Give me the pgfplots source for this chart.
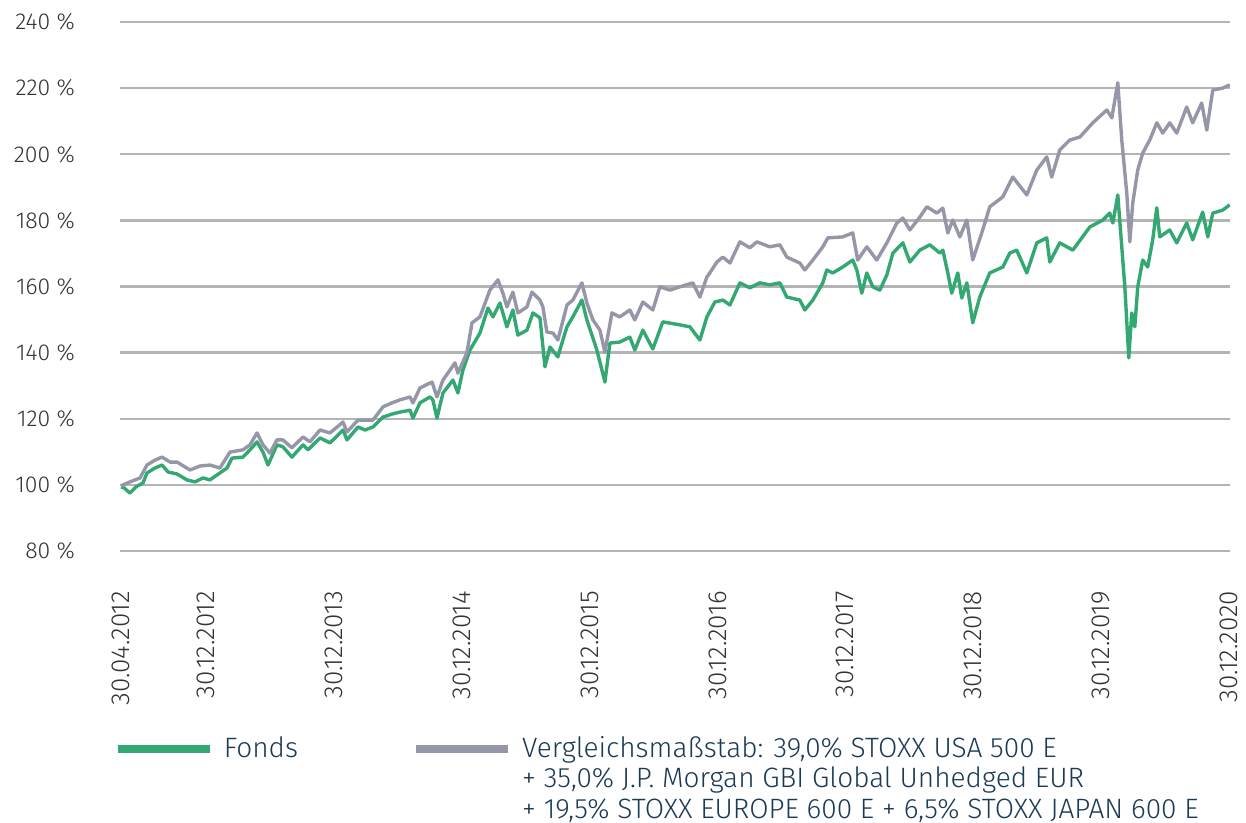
\documentclass[border=0pt]{standalone}
\usepackage{pgfplots}
\pgfplotsset{compat=1.18}
\usepackage{fontspec}
\setmainfont{Fira Sans}[UprightFont={* Light}]
\definecolor{fondsgreen}{RGB}{52,168,114}
\definecolor{benchgray}{RGB}{149,151,168}
\definecolor{gridgray}{RGB}{180,180,180}
\definecolor{ticktext}{RGB}{51,51,51}
\definecolor{legtext}{RGB}{27,58,87}
\begin{document}
\begin{tikzpicture}
\useasboundingbox (-60pt,-136pt) rectangle (563pt,275.5pt);
\begin{axis}[
  at={(0,0)}, anchor=south west,
  scale only axis, width=555pt, height=264.5pt,
  xmin=2012.325, xmax=2021.01,
  ymin=80, ymax=240,
  ytick={80,100,...,240},
  yticklabel={\pgfmathprintnumber{\tick}~\%},
  xtick={2012.333,2013,2014,2015,2016,2017,2018,2019,2020,2021},
  xticklabels={30.04.2012,30.12.2012,30.12.2013,30.12.2014,30.12.2015,30.12.2016,30.12.2017,30.12.2018,30.12.2019,30.12.2020},
  /pgf/number format/assume math mode=true,
  /pgf/number format/1000 sep={},
  axis line style={draw=none},
  major tick style={draw=none},
  ymajorgrids,
  grid style={gridgray, line width=1.2pt},
  yticklabel style={font=\fontsize{11.5}{13}\selectfont, text=ticktext, xshift=-19pt},
  xticklabel style={font=\fontsize{13}{15}\selectfont, text=ticktext, rotate=90, anchor=east},
  xticklabel shift=16.5pt,
  legend columns=2,
  legend style={at={(rel axis cs:-0.0117,-0.334)}, anchor=north west, draw=none, fill=none,
    font=\fontsize{14}{15.2}\selectfont, text=legtext,
    /tikz/every odd column/.append style={column sep=3pt},
    /tikz/every even column/.append style={column sep=8pt}},
  legend image code/.code={\draw[line width=4.2pt, yshift=-0.5pt] (0pt,0pt) -- (46pt,0pt);},
]
\addplot[fondsgreen, line width=1.7pt, line join=round] table {
x y
2012.333 99.4
2012.357 99.1
2012.403 97.5
2012.450 99.4
2012.505 100.6
2012.536 103.6
2012.599 105.1
2012.654 106.0
2012.701 103.9
2012.771 103.3
2012.849 101.5
2012.912 100.9
2012.974 102.1
2013.029 101.5
2013.084 103.0
2013.162 105.1
2013.201 108.1
2013.287 108.4
2013.342 110.6
2013.397 113.0
2013.444 109.9
2013.483 106.0
2013.553 112.1
2013.600 111.5
2013.670 108.4
2013.757 112.1
2013.796 110.6
2013.890 114.2
2013.968 112.7
2014.070 116.6
2014.101 113.6
2014.187 117.5
2014.242 116.6
2014.304 117.5
2014.383 120.5
2014.453 121.4
2014.515 122.0
2014.594 122.6
2014.617 120.2
2014.672 124.8
2014.750 126.6
2014.773 125.7
2014.805 120.2
2014.852 127.8
2014.930 131.7
2014.969 127.8
2015.008 134.7
2015.063 140.8
2015.141 145.9
2015.204 153.5
2015.243 150.8
2015.298 155.0
2015.352 147.8
2015.399 152.9
2015.438 145.3
2015.509 146.8
2015.556 152.0
2015.611 150.5
2015.650 135.7
2015.689 141.7
2015.751 138.7
2015.790 143.8
2015.822 147.8
2015.868 150.8
2015.939 155.9
2015.978 149.9
2016.056 140.8
2016.119 131.1
2016.158 142.9
2016.236 143.2
2016.314 144.7
2016.353 140.8
2016.416 146.8
2016.494 141.1
2016.572 149.3
2016.705 148.4
2016.784 147.8
2016.862 143.8
2016.917 150.8
2016.979 155.3
2017.042 155.9
2017.097 154.4
2017.175 161.1
2017.253 159.6
2017.331 161.1
2017.409 160.5
2017.488 161.1
2017.542 156.8
2017.644 155.9
2017.683 152.9
2017.746 155.9
2017.824 161.1
2017.855 165.0
2017.902 164.1
2017.980 165.9
2018.058 168.0
2018.090 165.0
2018.129 158.0
2018.168 164.1
2018.215 159.9
2018.270 158.9
2018.325 163.5
2018.372 170.1
2018.450 173.2
2018.505 167.4
2018.583 171.0
2018.661 172.6
2018.740 170.1
2018.763 171.0
2018.802 164.1
2018.833 158.0
2018.880 164.1
2018.911 156.5
2018.951 161.1
2018.997 149.0
2019.052 156.8
2019.130 164.1
2019.232 165.9
2019.287 170.1
2019.341 171.0
2019.420 164.1
2019.498 173.2
2019.576 174.7
2019.600 167.4
2019.678 173.2
2019.780 171.0
2019.913 178.0
2020.015 180.1
2020.069 182.2
2020.093 179.2
2020.132 187.7
2020.163 172.0
2020.187 159.9
2020.218 138.4
2020.241 152.0
2020.265 147.8
2020.288 159.9
2020.327 168.0
2020.366 165.9
2020.405 174.1
2020.437 183.8
2020.460 175.0
2020.538 177.1
2020.593 173.2
2020.671 179.2
2020.718 174.1
2020.796 182.5
2020.836 175.0
2020.875 182.2
2020.953 183.1
2021.008 184.7
};
\addlegendentry{\makebox[84pt][l]{Fonds}}
\addplot[benchgray, line width=1.7pt, line join=round] table {
x y
2012.333 99.7
2012.403 100.9
2012.482 102.1
2012.536 106.0
2012.599 107.5
2012.654 108.4
2012.716 106.9
2012.771 106.9
2012.873 104.5
2012.951 105.7
2013.029 106.0
2013.107 105.1
2013.185 109.9
2013.287 110.6
2013.342 112.1
2013.397 115.7
2013.444 112.1
2013.498 109.6
2013.553 113.6
2013.600 113.6
2013.670 111.2
2013.757 114.5
2013.811 113.0
2013.890 116.6
2013.968 115.7
2014.070 119.0
2014.101 116.0
2014.187 119.6
2014.304 119.6
2014.383 123.6
2014.453 124.8
2014.515 125.7
2014.594 126.6
2014.617 124.8
2014.672 129.3
2014.766 131.1
2014.805 126.6
2014.852 131.7
2014.946 136.9
2014.969 133.8
2015.039 139.9
2015.079 149.0
2015.141 150.8
2015.219 158.9
2015.282 162.0
2015.321 158.0
2015.352 153.8
2015.399 158.3
2015.438 152.0
2015.509 153.8
2015.548 158.3
2015.611 155.9
2015.634 153.8
2015.665 146.2
2015.713 145.9
2015.751 143.8
2015.822 154.4
2015.868 155.9
2015.939 161.1
2015.978 155.0
2016.025 149.9
2016.080 146.8
2016.119 140.2
2016.174 152.0
2016.236 150.8
2016.314 152.9
2016.353 149.9
2016.416 155.3
2016.494 152.9
2016.549 159.9
2016.627 158.9
2016.705 159.9
2016.807 161.1
2016.862 156.8
2016.917 162.9
2016.940 164.1
2016.995 167.4
2017.042 168.9
2017.097 167.1
2017.175 173.5
2017.253 171.7
2017.308 173.5
2017.409 172.0
2017.488 172.6
2017.542 168.9
2017.644 167.1
2017.683 165.0
2017.746 168.0
2017.824 172.0
2017.863 174.7
2017.980 175.0
2018.058 176.2
2018.097 168.0
2018.168 172.0
2018.246 168.0
2018.325 173.2
2018.403 179.2
2018.450 180.7
2018.505 177.1
2018.583 181.0
2018.638 184.1
2018.716 182.2
2018.763 183.7
2018.802 176.2
2018.841 180.1
2018.896 175.0
2018.951 180.1
2018.997 168.0
2019.075 177.1
2019.130 184.1
2019.232 187.1
2019.310 193.1
2019.420 187.7
2019.498 195.2
2019.576 199.2
2019.615 193.1
2019.678 201.3
2019.756 204.3
2019.835 205.2
2019.936 209.5
2020.046 213.4
2020.085 211.0
2020.132 221.6
2020.163 204.3
2020.202 188.3
2020.226 173.5
2020.249 185.3
2020.288 195.2
2020.327 200.4
2020.382 204.3
2020.437 209.5
2020.484 206.4
2020.538 209.5
2020.593 206.4
2020.671 214.3
2020.718 209.5
2020.788 215.5
2020.828 207.3
2020.875 219.4
2020.953 220.0
2021.008 221.0
};
\addlegendentry{\begin{tabular}[t]{@{}l@{}}Vergleichsmaßstab: 39,0\% STOXX USA 500 E\\+ 35,0\% J.P. Morgan GBI Global Unhedged EUR\\+ 19,5\% STOXX EUROPE 600 E + 6,5\% STOXX JAPAN 600 E\end{tabular}}
\end{axis}
\end{tikzpicture}
\end{document}
